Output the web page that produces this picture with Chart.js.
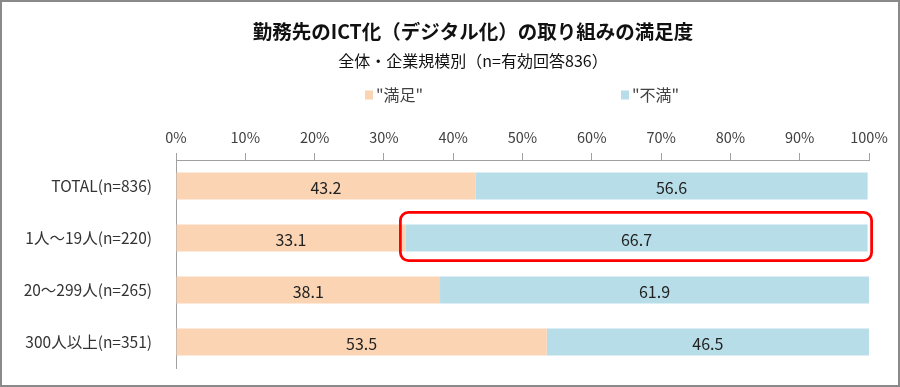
<!DOCTYPE html>
<html lang="ja">
<head>
<meta charset="UTF-8">
<title>勤務先のICT化の取り組みの満足度</title>
<script src="https://cdn.jsdelivr.net/npm/chart.js"></script>
<style>
  body { margin: 0; background: #fff; }
  #frame { width: 900px; height: 387px; box-sizing: border-box; border: 2px solid #8a8a8a; }
  canvas { display: block; }
</style>
</head>
<body>
<div id="frame"><canvas id="satChart" width="896" height="383"></canvas></div>
<script>
const titleText = '勤務先のICT化（デジタル化）の取り組みの満足度';
const subtitleText = '全体・企業規模別（n=有効回答836）';
const groups = ['TOTAL(n=836)', '1人～19人(n=220)', '20～299人(n=265)', '300人以上(n=351)'];
const seriesNames = ['"満足"', '"不満"'];
const satisfied = [43.2, 33.1, 38.1, 53.5];
const dissatisfied = [56.6, 66.7, 61.9, 46.5];

const FONT = '"Noto Sans CJK JP", "Noto Sans", sans-serif';
const axisGray = '#a0a0a0';

// value printed in the middle of every segment
const segmentLabels = {
  id: 'segmentLabels',
  afterDatasetsDraw(chart, args, opts) {
    const ctx = chart.ctx;
    ctx.save();
    ctx.font = opts.font;
    ctx.fillStyle = opts.color;
    ctx.textAlign = 'center';
    ctx.textBaseline = 'middle';
    chart.data.datasets.forEach((ds, i) => {
      chart.getDatasetMeta(i).data.forEach((bar, j) => {
        ctx.fillText(ds.data[j].toFixed(1), (bar.x + bar.base) / 2, bar.y + opts.dy);
      });
    });
    ctx.restore();
  }
};

// red rounded frame around one segment
const highlightBox = {
  id: 'highlightBox',
  afterDatasetsDraw(chart, args, opts) {
    const bar = chart.getDatasetMeta(opts.dataset).data[opts.index];
    if (!bar) return;
    const ctx = chart.ctx;
    const left = Math.min(bar.base, bar.x) - 5;
    const right = Math.max(bar.base, bar.x) + 4;
    const top = bar.y - bar.height / 2 - 12;
    const bottom = bar.y + bar.height / 2 + 9;
    ctx.save();
    ctx.strokeStyle = opts.color;
    ctx.lineWidth = opts.width;
    ctx.beginPath();
    ctx.roundRect(left, top, right - left, bottom - top, opts.radius);
    ctx.stroke();
    ctx.restore();
  }
};

// title + subtitle, centred a bit right of the canvas middle like the original
const header = {
  id: 'header',
  afterDraw(chart, args, opts) {
    const ctx = chart.ctx;
    ctx.save();
    ctx.textAlign = 'center';
    ctx.textBaseline = 'middle';
    ctx.fillStyle = opts.color;
    ctx.font = opts.titleFont;
    ctx.fillText(titleText, opts.x, opts.titleY);
    ctx.font = opts.subFont;
    ctx.fillText(subtitleText, opts.x, opts.subY);
    ctx.restore();
  }
};

// legend row with the two items spread apart
const legendRow = {
  id: 'legendRow',
  afterDraw(chart, args, opts) {
    const ctx = chart.ctx;
    ctx.save();
    ctx.font = opts.font;
    ctx.textBaseline = 'middle';
    chart.data.datasets.forEach((ds, i) => {
      const x = opts.x[i];
      ctx.fillStyle = ds.backgroundColor;
      ctx.fillRect(x, opts.y - 4.5, 8, 9);
      ctx.fillStyle = opts.color;
      ctx.fillText(ds.label, x + 11, opts.y);
    });
    ctx.restore();
  }
};

new Chart(document.getElementById('satChart'), {
  type: 'bar',
  data: {
    labels: groups,
    datasets: [
      { label: seriesNames[0], data: satisfied, backgroundColor: '#fbd4b4' },
      { label: seriesNames[1], data: dissatisfied, backgroundColor: '#b7dde8' }
    ]
  },
  options: {
    indexAxis: 'y',
    responsive: false,
    animation: false,
    datasets: { bar: { categoryPercentage: 1, barPercentage: 0.52 } },
    layout: { padding: { left: 0, right: 29, top: 0, bottom: 17 } },
    scales: {
      x: {
        position: 'top',
        stacked: true,
        min: 0,
        max: 100,
        ticks: {
          stepSize: 10,
          padding: 7,
          color: '#404040',
          font: { family: FONT, size: 14.5 },
          callback: v => v + '%'
        },
        grid: { drawOnChartArea: false, drawTicks: true, tickLength: 7, color: axisGray },
        border: { display: true, color: axisGray },
        // chart area top sits at 158px, room above is for header and legend
        afterFit(scale) { scale.height = 158; }
      },
      y: {
        stacked: true,
        ticks: {
          padding: 16,
          color: '#333',
          font: { family: FONT, size: 15.5 }
        },
        grid: { display: false },
        border: { display: true, color: axisGray },
        afterFit(scale) {
          scale.width = 174;
          // the tick padding shouldn't push the plot up from the bottom
          scale.paddingTop = 0;
          scale.paddingBottom = 0;
        }
      }
    },
    plugins: {
      legend: { display: false },
      title: { display: false },
      tooltip: { enabled: false },
      header: {
        x: 471, titleY: 30, subY: 59, color: '#111',
        titleFont: 'bold 19.5px ' + FONT,
        subFont: '16px ' + FONT
      },
      segmentLabels: { font: '16px ' + FONT, color: '#222', dy: 2 },
      highlightBox: { dataset: 1, index: 1, color: '#ff0000', width: 2.75, radius: 8 },
      legendRow: { x: [363, 619], y: 93, font: '16px ' + FONT, color: '#404040' }
    }
  },
  plugins: [segmentLabels, highlightBox, header, legendRow]
});
</script>
</body>
</html>
